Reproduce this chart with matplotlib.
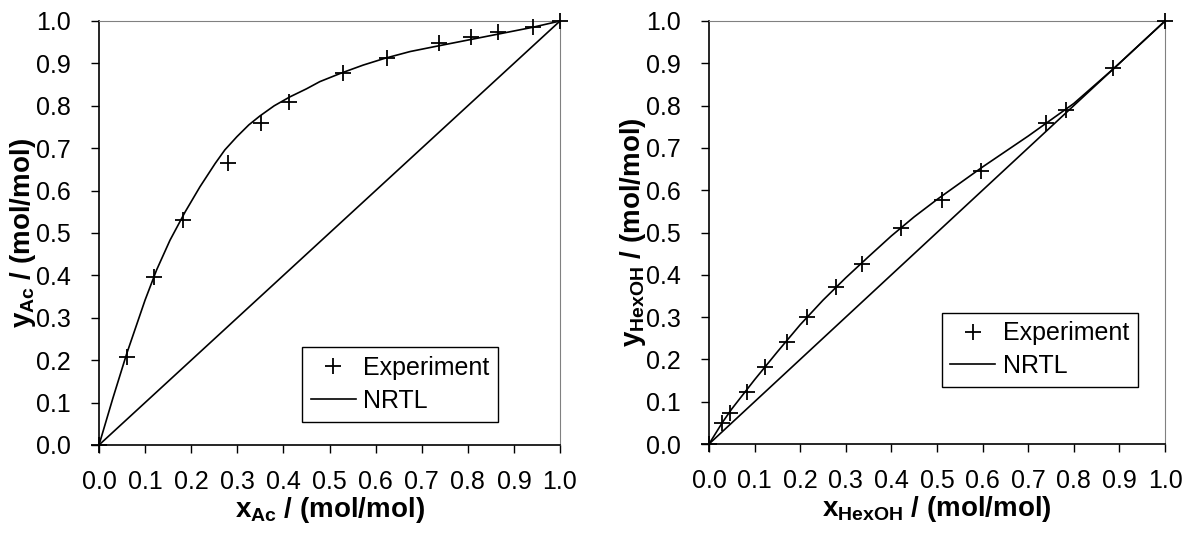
#!/usr/bin/env python3
# -*- coding: utf-8 -*-
# VLE diagrams: acetic acid / hexanol, experiment vs NRTL
import numpy as np
import matplotlib
matplotlib.use('Agg')
import matplotlib.pyplot as plt

plt.rcParams['font.family'] = ['Liberation Sans', 'DejaVu Sans']
plt.rcParams['mathtext.fontset'] = 'custom'
plt.rcParams['mathtext.rm'] = 'Liberation Sans:bold'
plt.rcParams['mathtext.it'] = 'Liberation Sans:bold'
plt.rcParams['mathtext.bf'] = 'Liberation Sans:bold'

### Data
# left: acetic acid
xAc_exp = [0.0, 0.060, 0.120, 0.183, 0.279, 0.351, 0.413, 0.530, 0.624, 0.737, 0.807, 0.866, 0.942, 1.0]
yAc_exp = [0.0, 0.208, 0.397, 0.531, 0.666, 0.759, 0.810, 0.877, 0.913, 0.949, 0.962, 0.975, 0.987, 1.0]
xAc_nrtl = [0.0, 0.030, 0.060, 0.100, 0.125, 0.154, 0.187, 0.219, 0.252, 0.273, 0.299, 0.325,
            0.349, 0.380, 0.414, 0.450, 0.479, 0.525, 0.573, 0.620, 0.675, 0.730, 0.800,
            0.870, 0.940, 1.0]
yAc_nrtl = [0.0, 0.110, 0.215, 0.342, 0.413, 0.483, 0.550, 0.609, 0.664, 0.696, 0.727, 0.755,
            0.776, 0.800, 0.821, 0.840, 0.857, 0.877, 0.896, 0.912, 0.928, 0.940, 0.955,
            0.970, 0.985, 1.0]

# right: hexanol
xHex_exp = [0.0, 0.028, 0.045, 0.083, 0.123, 0.170, 0.214, 0.278, 0.335, 0.421, 0.512, 0.596,
            0.740, 0.782, 0.886, 1.0]
yHex_exp = [0.0, 0.050, 0.074, 0.124, 0.183, 0.242, 0.301, 0.370, 0.425, 0.510, 0.578, 0.646,
            0.760, 0.790, 0.890, 1.0]
xHex_nrtl = [0.0, 0.030, 0.050, 0.100, 0.150, 0.200, 0.250, 0.300, 0.350, 0.400, 0.450, 0.500,
             0.600, 0.700, 0.800, 0.890, 1.0]
yHex_nrtl = [0.0, 0.052, 0.083, 0.152, 0.218, 0.282, 0.340, 0.393, 0.443, 0.492, 0.537, 0.578,
             0.655, 0.728, 0.805, 0.890, 1.0]

ticks = np.arange(0, 1.01, 0.1)


def vle_plot(ax, x_exp, y_exp, x_nrtl, y_nrtl, xlab, ylab, leg_anchor):
    ax.plot(x_exp, y_exp, '+', color='black', ms=12, mew=1.3, label='Experiment', clip_on=False, zorder=4)
    ax.plot(x_nrtl, y_nrtl, '-', color='black', lw=1.2, label='NRTL', clip_on=False)
    ax.plot([0, 1], [0, 1], '-', color='black', lw=1.2, clip_on=False)

    ax.set_xlim(0, 1)
    ax.set_ylim(0, 1)
    ax.set_xticks(ticks)
    ax.set_yticks(ticks)
    ax.set_xticklabels(['%.1f' % t for t in ticks])
    ax.set_yticklabels(['%.1f' % t for t in ticks])
    ax.tick_params(direction='out', length=6, width=1, labelsize=18)
    ax.tick_params(axis='x', pad=12)
    ax.tick_params(axis='y', pad=14)

    ax.spines['top'].set_color('#808080')
    ax.spines['right'].set_color('#808080')
    for s in ['left', 'bottom']:
        ax.spines[s].set_color('black')
        ax.spines[s].set_linewidth(1.2)

    ax.set_xlabel(xlab, fontsize=20, fontweight='bold', labelpad=1)
    ax.set_ylabel(ylab, fontsize=20, fontweight='bold', labelpad=-1)

    leg = ax.legend(loc='lower left', bbox_to_anchor=leg_anchor, fontsize=18, fancybox=False,
                    edgecolor='black', framealpha=1, handlelength=1.8, handletextpad=0.3,
                    borderpad=0.35, labelspacing=0.35, borderaxespad=0)
    leg.get_frame().set_linewidth(1.0)


### Main
fig = plt.figure(figsize=(11.92, 5.35), dpi=100)

ax1 = fig.add_axes([99 / 1192, 1 - 445 / 535, 461 / 1192, 424 / 535])
ax2 = fig.add_axes([709 / 1192, 1 - 444 / 535, 456 / 1192, 423 / 535])

vle_plot(ax1, xAc_exp, yAc_exp, xAc_nrtl, yAc_nrtl,
         r'$\mathrm{x_{Ac}}$ / (mol/mol)', r'$\mathrm{y_{Ac}}$ / (mol/mol)', (0.44, 0.055))
vle_plot(ax2, xHex_exp, yHex_exp, xHex_nrtl, yHex_nrtl,
         r'$\mathrm{x_{HexOH}}$ / (mol/mol)', r'$\mathrm{y_{HexOH}}$ / (mol/mol)', (0.51, 0.135))

fig.savefig('out.png', dpi=100)
